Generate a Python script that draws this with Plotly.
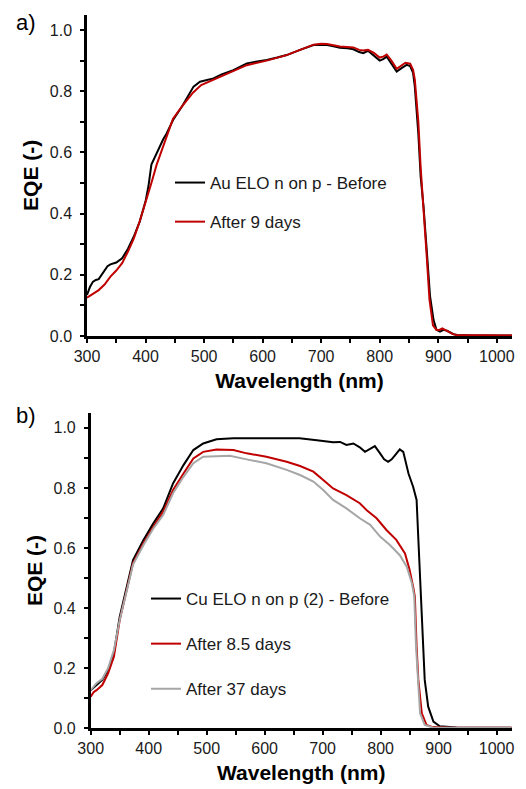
import plotly.graph_objects as go

# ---------- Panel a) Au ELO n on p ----------
wl_a_before = [300, 305, 310, 315, 320, 325, 330, 335, 340, 345, 350, 360, 370, 380, 390,
               400, 405, 410, 415, 420, 430, 436, 447, 462, 470, 482, 493, 505, 516, 530,
               550, 573, 590, 607, 625, 641, 664, 687, 700, 710, 721, 732, 745, 755, 765,
               772, 780, 790, 800, 806, 812, 820, 829, 838, 846, 852, 857, 860, 863, 866,
               870, 875, 880, 886, 892, 897, 903, 909, 915, 920, 926, 932, 945, 960, 1000, 1026]
eqe_a_before = [0.134, 0.160, 0.177, 0.183, 0.186, 0.200, 0.216, 0.228, 0.234, 0.237, 0.240,
                0.254, 0.285, 0.325, 0.374, 0.440, 0.490, 0.560, 0.580, 0.605, 0.642, 0.662,
                0.706, 0.749, 0.775, 0.815, 0.831, 0.837, 0.842, 0.855, 0.869, 0.891, 0.896,
                0.902, 0.910, 0.918, 0.935, 0.951, 0.952, 0.951, 0.947, 0.942, 0.940, 0.937,
                0.928, 0.924, 0.932, 0.915, 0.900, 0.905, 0.913, 0.890, 0.864, 0.876, 0.886,
                0.882, 0.860, 0.815, 0.750, 0.660, 0.520, 0.420, 0.290, 0.130, 0.052, 0.020,
                0.014, 0.020, 0.017, 0.012, 0.006, 0.003, 0.002, 0.002, 0.002, 0.002]

wl_a_after = [300, 310, 320, 330, 340, 350, 360, 370, 380, 390, 400, 410, 419, 430, 440,
              447, 462, 481, 495, 516, 550, 573, 607, 641, 664, 687, 700, 710, 732, 745,
              755, 765, 772, 780, 790, 800, 806, 812, 820, 829, 838, 844, 852, 857, 860,
              863, 866, 870, 875, 880, 885, 891, 897, 902, 907, 912, 918, 925, 932, 960, 1026]
eqe_a_after = [0.125, 0.138, 0.150, 0.168, 0.194, 0.214, 0.238, 0.276, 0.319, 0.374, 0.434,
               0.500, 0.560, 0.620, 0.675, 0.710, 0.750, 0.795, 0.820, 0.838, 0.865, 0.885,
               0.900, 0.918, 0.935, 0.952, 0.955, 0.954, 0.946, 0.944, 0.943, 0.935, 0.933,
               0.935, 0.925, 0.910, 0.913, 0.920, 0.900, 0.873, 0.885, 0.893, 0.890, 0.870,
               0.838, 0.770, 0.700, 0.550, 0.420, 0.270, 0.120, 0.035, 0.020, 0.020, 0.025,
               0.020, 0.013, 0.006, 0.003, 0.002, 0.002]

# ---------- Panel b) Cu ELO n on p (2) ----------
wl_b_before = [300, 310, 320, 330, 340, 350, 360, 373, 391, 408, 425, 442, 460, 477, 494,
               517, 546, 603, 632, 660, 690, 718, 730, 741, 753, 764, 773, 782, 790, 799,
               806, 813, 819, 825, 833, 839, 844, 848, 856, 862, 865, 868, 871, 876, 882,
               891, 902, 931, 960, 1026]
eqe_b_before = [0.127, 0.144, 0.161, 0.194, 0.250, 0.371, 0.455, 0.560, 0.627, 0.682, 0.732,
                0.815, 0.876, 0.926, 0.948, 0.962, 0.965, 0.965, 0.967, 0.965, 0.959, 0.952,
                0.953, 0.943, 0.948, 0.935, 0.920, 0.930, 0.939, 0.915, 0.895, 0.887, 0.895,
                0.909, 0.928, 0.920, 0.880, 0.848, 0.804, 0.760, 0.630, 0.500, 0.380, 0.161,
                0.072, 0.022, 0.007, 0.003, 0.002, 0.002]

wl_b_85 = [300, 305, 310, 320, 330, 340, 350, 360, 373, 391, 408, 425, 442, 460, 477, 494,
           517, 546, 569, 603, 638, 661, 684, 701, 718, 741, 764, 776, 793, 810, 827, 842,
           850, 856, 859, 862, 865, 871, 879, 890, 920, 1026]
eqe_b_85 = [0.105, 0.120, 0.127, 0.144, 0.183, 0.238, 0.360, 0.440, 0.550, 0.616, 0.671,
            0.721, 0.793, 0.848, 0.898, 0.920, 0.928, 0.926, 0.915, 0.904, 0.887, 0.873,
            0.854, 0.826, 0.798, 0.776, 0.749, 0.726, 0.699, 0.660, 0.627, 0.582, 0.527,
            0.471, 0.438, 0.272, 0.161, 0.050, 0.011, 0.004, 0.002, 0.002]

wl_b_37 = [300, 310, 320, 330, 340, 350, 360, 373, 391, 408, 425, 442, 460, 477, 494, 517,
           540, 569, 603, 638, 661, 684, 701, 718, 741, 764, 782, 799, 816, 833, 845, 854,
           858, 861, 864, 868, 876, 890, 920, 1026]
eqe_b_37 = [0.127, 0.150, 0.165, 0.200, 0.260, 0.360, 0.440, 0.545, 0.610, 0.665, 0.710,
            0.782, 0.837, 0.882, 0.904, 0.905, 0.907, 0.895, 0.882, 0.860, 0.843, 0.821,
            0.793, 0.760, 0.732, 0.699, 0.677, 0.638, 0.610, 0.576, 0.538, 0.482, 0.438,
            0.272, 0.161, 0.050, 0.011, 0.003, 0.002, 0.002]

x_ticks = [300, 400, 500, 600, 700, 800, 900, 1000]
y_ticks = [0.0, 0.2, 0.4, 0.6, 0.8, 1.0]

BLACK = "#000000"
RED = "#C00000"
GREY = "#A6A6A6"
FONT = "Arial, Liberation Sans, sans-serif"
OFF = 8                     # browser body margin
W, H = 526 - OFF, 789 - OFF


def px(v):
    return (v - OFF) / W


def py(v):
    return 1 - (v - OFF) / H


fig = go.Figure()
fig.add_trace(go.Scatter(x=wl_a_before, y=eqe_a_before, mode="lines", name="Au ELO n on p - Before",
                         line=dict(color=BLACK, width=2), xaxis="x", yaxis="y",
                         legend="legend", legendgroup="a1"))
fig.add_trace(go.Scatter(x=wl_a_after, y=eqe_a_after, mode="lines", name="After 9 days",
                         line=dict(color=RED, width=2), xaxis="x", yaxis="y",
                         legend="legend", legendgroup="a2"))
fig.add_trace(go.Scatter(x=wl_b_before, y=eqe_b_before, mode="lines", name="Cu ELO n on p (2) - Before",
                         line=dict(color=BLACK, width=2), xaxis="x2", yaxis="y2",
                         legend="legend2", legendgroup="b1"))
fig.add_trace(go.Scatter(x=wl_b_85, y=eqe_b_85, mode="lines", name="After 8.5 days",
                         line=dict(color=RED, width=2), xaxis="x2", yaxis="y2",
                         legend="legend2", legendgroup="b2"))
fig.add_trace(go.Scatter(x=wl_b_37, y=eqe_b_37, mode="lines", name="After 37 days",
                         line=dict(color=GREY, width=2), xaxis="x2", yaxis="y2",
                         legend="legend2", legendgroup="b3"))


def xaxis(domain, anchor):
    return dict(domain=domain, anchor=anchor, range=[300, 1026], automargin=False,
                tickmode="array", tickvals=x_ticks,
                ticks="outside", ticklen=4, tickwidth=2, tickcolor="black",
                showline=True, linecolor="black", linewidth=2.5,
                showgrid=False, zeroline=False,
                minor=dict(tickmode="linear", tick0=350, dtick=100, ticks="outside",
                           ticklen=4, tickwidth=2, tickcolor="black", showgrid=False),
                tickfont=dict(family=FONT, size=16, color="#1a1a1a"),
                title=dict(text="<b>Wavelength (nm)</b>", standoff=10,
                           font=dict(family=FONT, size=21, color="black")))


def yaxis(domain, anchor):
    return dict(domain=domain, anchor=anchor, range=[0, 1.05], automargin=False,
                tickmode="array", tickvals=y_ticks, tickformat=".1f",
                ticks="outside", ticklen=4, tickwidth=2, tickcolor="black",
                showline=True, linecolor="black", linewidth=2.5,
                showgrid=False, zeroline=False,
                minor=dict(tickmode="linear", tick0=0.1, dtick=0.2, ticks="outside",
                           ticklen=4, tickwidth=2, tickcolor="black", showgrid=False),
                tickfont=dict(family=FONT, size=16, color="#1a1a1a"),
                ticklabelstandoff=5,
                title=dict(text="<b>EQE (-)</b>", standoff=6,
                           font=dict(family=FONT, size=21, color="black")))


fig.update_layout(
    width=W, height=H,
    margin=dict(l=0, r=0, t=0, b=0, autoexpand=False),
    paper_bgcolor="white", plot_bgcolor="white",
    font=dict(family=FONT, color="black"),
    xaxis=xaxis([px(87), px(512)], "y"),
    yaxis=yaxis([py(336), py(14.7)], "x"),
    xaxis2=xaxis([px(90.7), px(511.7)], "y2"),
    yaxis2=yaxis([py(728.3), py(412.8)], "x2"),
    legend=dict(x=px(170), y=py(165), xanchor="left", yanchor="top",
                bgcolor="rgba(0,0,0,0)", borderwidth=0, tracegroupgap=14,
                traceorder="grouped", font=dict(family=FONT, size=17, color="#1a1a1a")),
    legend2=dict(x=px(146), y=py(581), xanchor="left", yanchor="top",
                 bgcolor="rgba(0,0,0,0)", borderwidth=0, tracegroupgap=20,
                 traceorder="grouped", font=dict(family=FONT, size=17, color="#1a1a1a")),
    annotations=[
        dict(text="a)", x=px(26), y=py(23), xref="paper", yref="paper",
             xanchor="center", yanchor="middle",
             showarrow=False, font=dict(family=FONT, size=22, color="black")),
        dict(text="b)", x=px(26), y=py(415), xref="paper", yref="paper",
             xanchor="center", yanchor="middle",
             showarrow=False, font=dict(family=FONT, size=22, color="black")),
    ],
)

fig.write_html("out.html")
